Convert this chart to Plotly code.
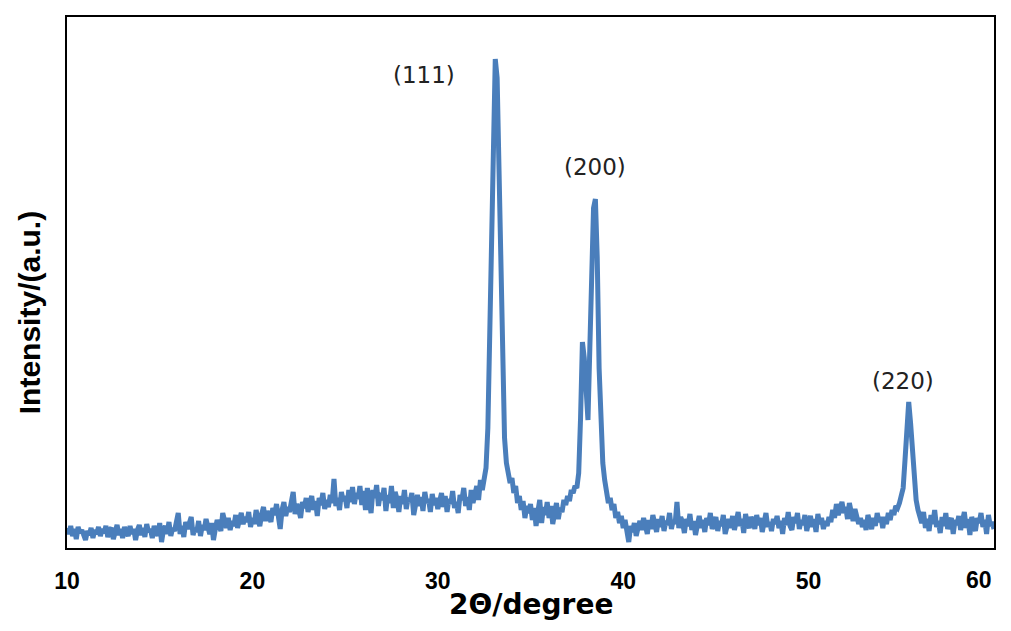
import numpy as np
import plotly.graph_objects as go

# XRD PATTERN DATA (0.1 degree grid)
two_theta = np.round(np.linspace(10, 60, 501), 1)

intensity = [
    20, 14, 22, 12, 19, 9, 21, 15, 18, 11,      # 10
    8, 17, 13, 20, 10, 18, 14, 21, 12, 19,      # 11
    15, 22, 11, 18, 20, 9, 16, 23, 13, 19,      # 12
    10, 21, 16, 12, 22, 14, 19, 8, 18, 23,      # 13
    13, 20, 11, 24, 16, 19, 10, 22, 17, 12,     # 14
    25, 6, 18, 22, 14, 26, 12, 20, 17, 28,      # 15
    35, 14, 22, 11, 26, 19, 24, 31, 13, 20,     # 16
    16, 27, 12, 23, 18, 29, 21, 14, 25, 8,      # 17
    19, 28, 22, 17, 35, 24, 20, 30, 18, 27,     # 18
    22, 33, 20, 28, 35, 24, 31, 26, 36, 21,     # 19
    30, 24, 38, 28, 22, 34, 41, 27, 37, 31,     # 20
    26, 40, 33, 44, 28, 19, 38, 46, 32, 41,     # 21
    36, 48, 56, 34, 44, 38, 30, 46, 40, 50,     # 22
    36, 45, 52, 38, 47, 32, 50, 43, 55, 39,     # 23
    48, 41, 53, 45, 69, 42, 50, 38, 56, 47,     # 24
    52, 40, 58, 46, 61, 44, 55, 49, 62, 43,     # 25
    57, 38, 60, 47, 35, 58, 50, 63, 42, 55,     # 26
    48, 60, 37, 53, 45, 62, 40, 56, 49, 36,     # 27
    52, 44, 58, 39, 50, 46, 55, 33, 48, 53,     # 28
    42, 51, 37, 56, 45, 49, 36, 54, 43, 50,     # 29
    39, 47, 55, 41, 52, 36, 49, 44, 57, 40,     # 30
    46, 35, 53, 48, 60, 42, 51, 38, 58, 45,     # 31
    55, 62, 48, 68, 58, 72, 80, 120, 200, 290,  # 32
    380, 489, 470, 380, 260, 170, 110, 85, 75, 65,  # 33
    70, 55, 62, 45, 52, 38, 47, 30, 42, 35,     # 34
    44, 28, 40, 22, 37, 48, 25, 41, 33, 46,     # 35
    30, 42, 24, 38, 45, 29, 40, 36, 48, 43,     # 36
    52, 47, 58, 55, 62, 60, 75, 130, 206, 190,  # 37
    148, 128, 200, 290, 340, 349, 290, 180, 120, 85,  # 38
    68, 55, 45, 50, 38, 44, 30, 36, 25, 32,     # 39
    20, 28, 14, 6, 22, 16, 25, 12, 20, 27,      # 40
    18, 30, 22, 14, 28, 19, 33, 24, 16, 29,     # 41
    21, 32, 17, 27, 23, 35, 19, 28, 24, 46,     # 42
    20, 31, 26, 15, 29, 22, 34, 18, 27, 13,     # 43
    25, 32, 20, 28, 16, 30, 23, 35, 19, 26,     # 44
    31, 17, 27, 22, 33, 14, 25, 29, 20, 32,     # 45
    18, 26, 36, 22, 29, 15, 34, 24, 20, 31,     # 46
    27, 19, 33, 23, 30, 16, 28, 35, 21, 26,     # 47
    17, 29, 24, 32, 20, 27, 14, 30, 23, 36,     # 48
    22, 18, 31, 25, 35, 19, 28, 23, 33, 17,     # 49
    26, 32, 21, 29, 16, 34, 24, 30, 19, 27,     # 50
    22, 31, 26, 38, 30, 44, 33, 40, 46, 35,     # 51
    41, 29, 45, 36, 27, 39, 33, 24, 30, 21,     # 52
    28, 18, 33, 24, 19, 30, 22, 35, 26, 31,     # 53
    20, 31, 24, 35, 28, 38, 33, 42, 40, 45,     # 54
    52, 60, 88, 118, 146, 125, 95, 70, 48, 38,  # 55
    30, 25, 36, 20, 29, 17, 33, 24, 38, 21,     # 56
    27, 15, 31, 22, 35, 19, 26, 30, 14, 28,     # 57
    23, 32, 18, 27, 36, 20, 29, 13, 31, 24,     # 58
    17, 30, 25, 35, 21, 28, 14, 33, 22, 26,     # 59
    19,                                         # 60
]

x_ticks = [10, 20, 30, 40, 50, 60]

peak_labels = ["(111)", "(200)", "(220)"]
label_x = [29.25, 38.5, 55.1]
label_y = [473, 381, 167]

tick_font = dict(family="Liberation Sans", size=23, color="black", weight="bold")

fig = go.Figure()
fig.add_trace(go.Scatter(x=two_theta, y=intensity, mode="lines",
                         line=dict(color="#4A7EBB", width=5), showlegend=False))

for txt, lx, ly in zip(peak_labels, label_x, label_y):
    fig.add_annotation(x=lx, y=ly, text=txt, showarrow=False,
                       font=dict(family="DejaVu Sans", size=23, color="#222222"))

# last tick label sits flush with the right border, like the original
fig.add_annotation(x=x_ticks[-1], xref="x", yref="paper", y=-0.0603,
                   xanchor="right", yanchor="middle", showarrow=False,
                   text=str(x_ticks[-1]), font=tick_font)

# axis titles
fig.add_annotation(xref="paper", yref="paper", x=-0.041, y=0.444,
                   xanchor="center", yanchor="middle",
                   text="<b>Intensity/(a.u.)</b>", textangle=-90, showarrow=False,
                   font=dict(family="Liberation Sans", size=30, color="black"))
fig.add_annotation(xref="paper", yref="paper", x=0.5, y=-0.106,
                   xanchor="center", yanchor="middle",
                   text="<b>2Θ/degree</b>", showarrow=False,
                   font=dict(family="DejaVu Sans", size=28, color="black"))

# page body has an 8px margin; keep the figure inside the window
fig.update_layout(
    width=995, height=615,
    margin=dict(l=59, r=7, t=9, b=75),
    paper_bgcolor="white", plot_bgcolor="white",
)
fig.update_xaxes(range=[10, 60], tickvals=x_ticks[:-1], showgrid=False, zeroline=False,
                 showline=True, linecolor="black", linewidth=2, mirror=True,
                 ticks="outside", ticklen=11, tickcolor="rgba(0,0,0,0)",
                 tickfont=tick_font)
fig.update_yaxes(range=[0, 531], showticklabels=False, showgrid=False, zeroline=False,
                 showline=True, linecolor="black", linewidth=2, mirror=True)

fig.write_html("out.html")
